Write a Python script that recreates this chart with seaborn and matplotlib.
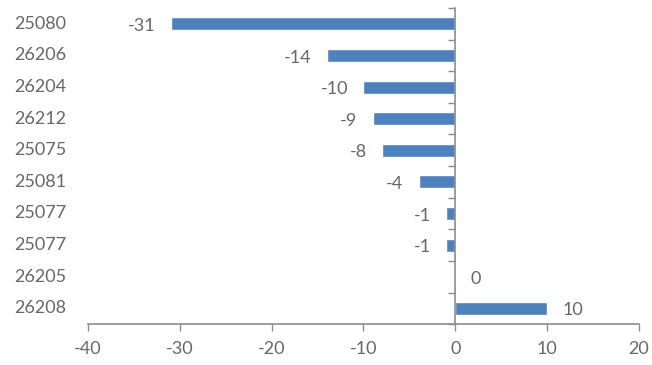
import matplotlib
matplotlib.use("Agg")
import matplotlib.pyplot as plt
import matplotlib.transforms as mtransforms
import seaborn as sns
import pandas as pd

# Codes listed top to bottom, with their changes
codes = ["25080", "26206", "26204", "26212", "25075", "25081", "25077", "25077", "26205", "26208"]
changes = [-31, -14, -10, -9, -8, -4, -1, -1, 0, 10]
x_ticks = [-40, -30, -20, -10, 0, 10, 20]

sns.set_theme(style="white")
plt.rcParams["font.family"] = ["Lato", "DejaVu Sans"]

text_color = "#676767"
axis_color = "#8c8c8c"
bar_color = "#4F81BD"
fs = 13

df = pd.DataFrame({"pos": list(range(len(codes))), "change": changes})

fig = plt.figure(figsize=(6.52, 3.65), dpi=100)
ax = fig.add_axes([0.135, 0.112, 0.845, 0.866])

sns.barplot(data=df, x="change", y="pos", orient="h", color=bar_color,
            width=0.41, saturation=1, ax=ax)

ax.set_xlim(x_ticks[0], x_ticks[-1])
ax.set_ylim(len(codes) - 0.5, -0.5)
ax.set_xlabel("")
ax.set_ylabel("")

# x axis along the bottom
ax.set_xticks(x_ticks)
ax.set_xticklabels([str(t) for t in x_ticks])
ax.tick_params(axis="x", direction="out", length=5, width=1, color=axis_color,
               labelcolor=text_color, labelsize=fs, pad=7, bottom=True)

# vertical axis drawn at zero with ticks between categories
for side in ["top", "right"]:
    ax.spines[side].set_visible(False)
ax.spines["left"].set_position(("data", 0))
ax.spines["left"].set_color(axis_color)
ax.spines["bottom"].set_color(axis_color)
ax.spines["left"].set_linewidth(1.2)
ax.spines["bottom"].set_linewidth(1.2)
ax.set_yticks([i + 0.5 for i in range(-1, len(codes))])
ax.set_yticklabels([])
ax.tick_params(axis="y", direction="out", length=5, width=1, color=axis_color, left=True)

# category names at the far left
trans = mtransforms.blended_transform_factory(fig.transFigure, ax.transData)
for i, code in enumerate(codes):
    ax.text(0.022, i, code, transform=trans, ha="left", va="center",
            fontsize=fs, color=text_color)

# value labels beyond the bar ends
for i, v in enumerate(changes):
    off = -11 if v < 0 else 11
    ax.annotate(str(v), xy=(v, i), xytext=(off, -1.5), textcoords="offset points",
                ha="right" if v < 0 else "left", va="center",
                fontsize=fs, color=text_color)

fig.savefig("out.png", dpi=100)
